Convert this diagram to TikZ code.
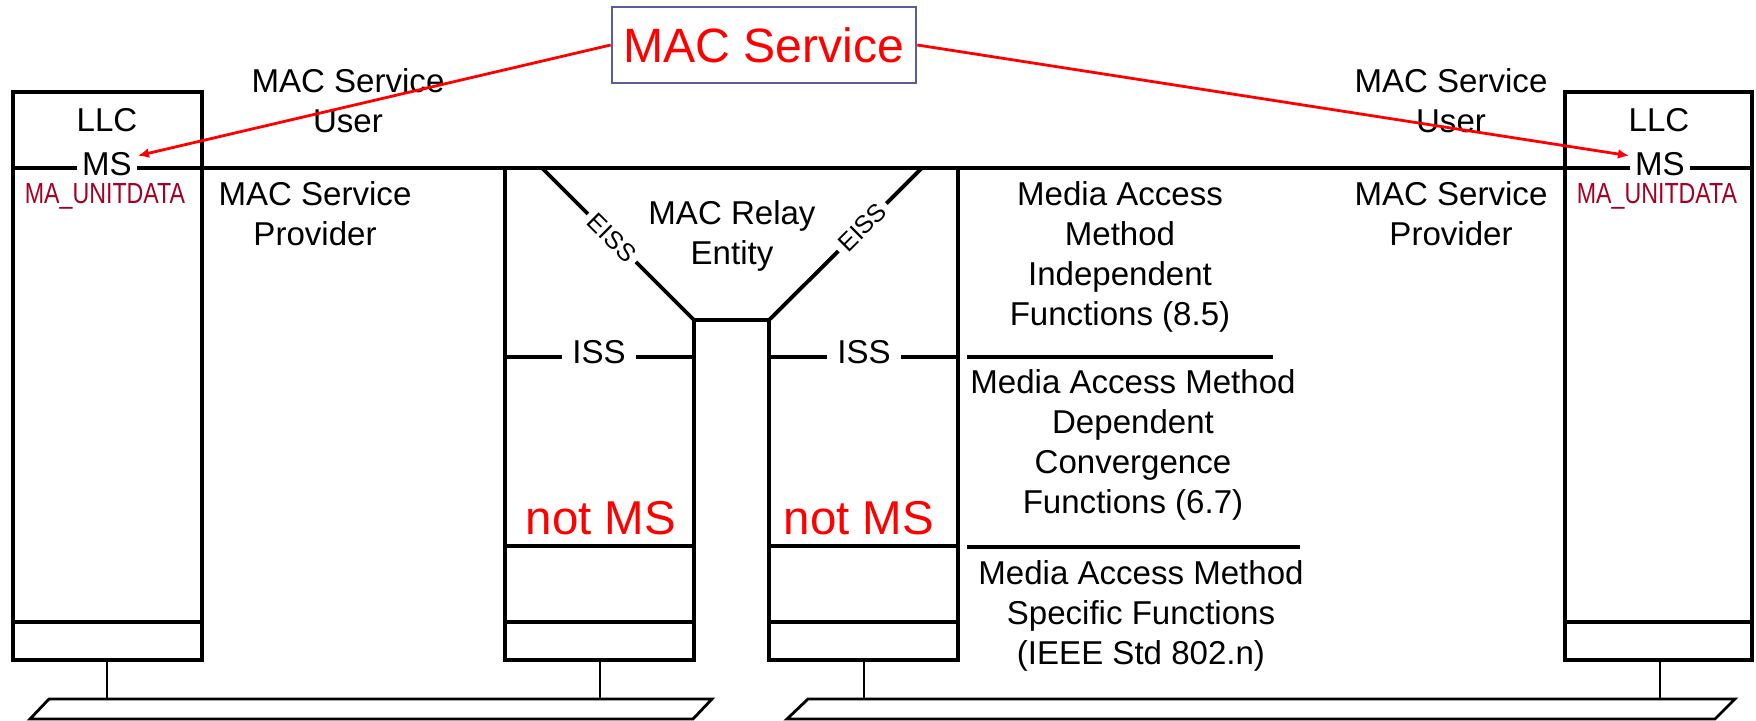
\documentclass[tikz,border=0pt]{standalone}
\usepackage{fontspec}
\setmainfont{Liberation Sans}
\newfontfamily\narrowfont[FakeStretch=0.8]{Liberation Sans}
\usetikzlibrary{arrows.meta}
\definecolor{servred}{RGB}{255,0,0}
\definecolor{primred}{RGB}{165,0,33}
\definecolor{slate}{RGB}{92,92,152}
\tikzset{
  layer/.style={line width=1.1pt},
  wire/.style={line width=0.8pt},
  lbl/.style={font=\fontsize{9.4}{11.4}\selectfont, align=center, inner sep=0pt},
  cut/.style={font=\fontsize{9.4}{11.4}\selectfont, fill=white, inner sep=3pt},
  msbox/.style={cut, inner sep=1.5pt},
  big/.style={font=\fontsize{13.5}{16}\selectfont, text=servred, inner sep=0pt},
  prim/.style={font=\narrowfont\fontsize{8.25}{10}\selectfont, text=primred, inner sep=0pt},
  eiss/.style={font=\fontsize{7.1}{8}\selectfont, fill=white, inner sep=1.5pt, sloped},
  svc/.style={-{Latex[length=3.2pt,width=2.8pt]}, servred, line width=0.8pt}
}
\begin{document}
\begin{tikzpicture}[x=0.01cm, y=-0.01cm]
\useasboundingbox (0,0) rectangle (1756,721);

% end stations
\draw[layer] (13,92) rectangle (202,660);
\draw[layer] (13,622) -- (202,622);
\draw[layer] (1565,92) rectangle (1752,660);
\draw[layer] (1565,622) -- (1752,622);
\draw[layer] (13,168) -- (1752,168);

% bridge
\draw[layer] (505,168) -- (505,660) -- (694,660) -- (694,320) -- (769,320) -- (769,660) -- (958,660) -- (958,168);
\draw[layer] (505,546) -- (694,546);
\draw[layer] (505,622) -- (694,622);
\draw[layer] (769,546) -- (958,546);
\draw[layer] (769,622) -- (958,622);
\draw[layer] (505,357) -- (694,357);
\draw[layer] (769,357) -- (958,357);
\draw[layer] (542,168) -- node[eiss, pos=0.46] {EISS} (694,320);
\draw[layer] (922,168) -- node[eiss, pos=0.39] {EISS} (769,320);
\draw[layer] (967,357) -- (1273,357);
\draw[layer] (967,547) -- (1300,547);

% LANs
\draw[wire] (107,660) -- (107,699);
\draw[wire] (600,660) -- (600,699);
\draw[wire] (864,660) -- (864,699);
\draw[wire] (1660,660) -- (1660,699);
\draw[wire] (49,699) -- (712,699) -- (693,719) -- (30,719) -- cycle;
\draw[wire] (808,699) -- (1735,699) -- (1715,719) -- (787,719) -- cycle;

\node[lbl] (llcL) at (107,120) {LLC};
\node[lbl] (llcR) at (1659,120) {LLC};
\node[msbox] (msL) at (107,164) {MS};
\node[msbox] (msR) at (1660,164) {MS};
\node[prim] (primL) at (105,196) {MA\_UNITDATA};
\node[prim] (primR) at (1657,196) {MA\_UNITDATA};
\node[lbl] (userL) at (348,101) {MAC Service\\User};
\node[lbl] (userR) at (1451,101) {MAC Service\\User};
\node[lbl] (provL) at (315,214) {MAC Service\\Provider};
\node[lbl] (provR) at (1451,214) {MAC Service\\Provider};
\node[lbl] (relay) at (732,236) {MAC Relay\\Entity};
\node[cut] (issL) at (599,352) {ISS};
\node[cut] (issR) at (864,352) {ISS};
\node[big] (notL) at (601,518) {not MS};
\node[big] (notR) at (859,518) {not MS};
\node[lbl] (indep) at (1120,257) {Media Access\\Method\\Independent\\Functions (8.5)};
\node[lbl] (dep) at (1133,445) {Media Access Method\\Dependent\\Convergence\\Functions (6.7)};
\node[lbl] (spec) at (1141,616) {Media Access Method\\Specific Functions\\(IEEE Std 802.n)};

\node[big, draw=slate, line width=0.7pt, font=\fontsize{13.7}{16}\selectfont, minimum width=3.04cm, minimum height=0.76cm] (mac) at (764,45) {MAC Service};
\draw[svc] (mac.west) -- (msL.15);
\draw[svc] (mac.east) -- (msR.165);
\end{tikzpicture}
\end{document}
